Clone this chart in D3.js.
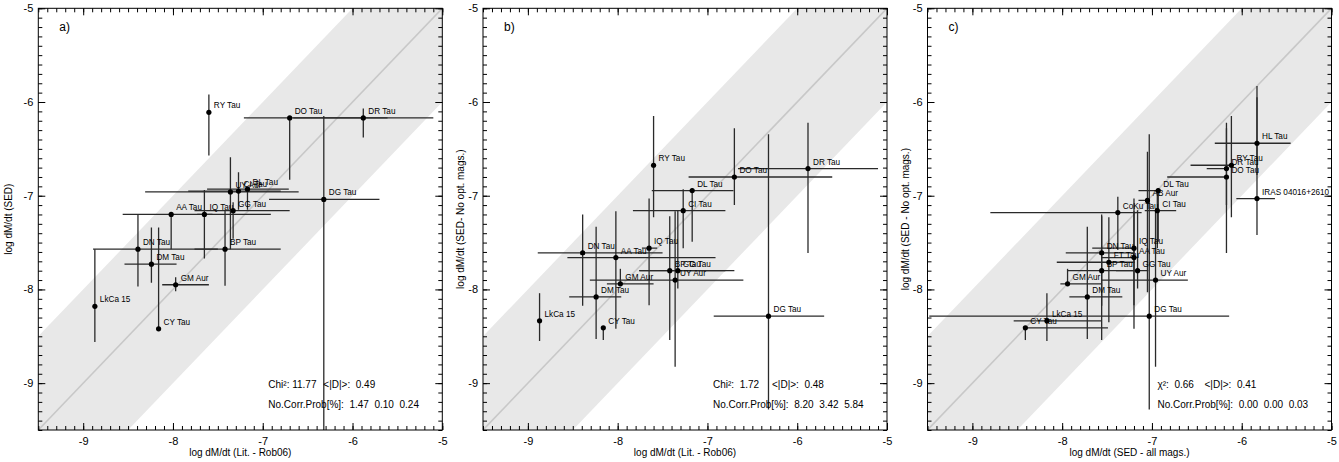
<!DOCTYPE html>
<html>
<head>
<meta charset="utf-8">
<script src="https://cdn.jsdelivr.net/npm/d3@7"></script>
<style>
  body { margin: 0; background: #fff; }
  svg text { font-family: "Liberation Sans", Arial, sans-serif; fill: #000; white-space: pre; }
</style>
</head>
<body>
<svg id="chart" width="1339" height="462"></svg>
<script>
// Stars shared by panels a) and b).
const starsAB = ["RY Tau", "DO Tau", "DR Tau", "DG Tau", "UY Aur", "CI Tau", "DL Tau", "GG Tau",
  "AA Tau", "IQ Tau", "DN Tau", "BP Tau", "DM Tau", "GM Aur", "LkCa 15", "CY Tau"];

// log dM/dt (Lit. - Rob06) with error range.
const litX   = [-7.60, -6.70, -5.88, -6.32, -7.36, -7.27, -7.17, -7.33, -8.02, -7.65, -8.39, -7.42, -8.24, -7.97, -8.87, -8.16];
const litXLo = [-7.60, -7.21, -6.66, -6.93, -8.31, -7.83, -7.62, -7.76, -8.56, -7.73, -8.89, -7.76, -8.54, -8.12, -8.87, -8.16];
const litXHi = [-7.60, -5.61, -5.10, -5.70, -6.60, -6.80, -6.71, -6.70, -6.91, -7.56, -7.50, -6.80, -7.96, -7.60, -8.87, -8.16];

// log dM/dt (SED), panel a).
const sedY   = [-6.11, -6.17, -6.17, -7.04, -6.96, -6.95, -6.93, -7.16, -7.20, -7.20, -7.57, -7.57, -7.73, -7.95, -8.18, -8.42];
const sedYLo = [-6.57, -6.83, -6.38, -9.60, -7.57, -7.15, -7.15, -7.46, -7.57, -7.67, -7.97, -7.96, -7.93, -8.02, -8.56, -8.42];
const sedYHi = [-5.92, -6.17, -6.07, -6.15, -6.59, -6.75, -6.93, -7.07, -7.20, -6.94, -7.20, -7.16, -7.34, -7.87, -7.57, -7.34];

// log dM/dt (SED - No opt. mags.), panel b).
const noOptY   = [-6.675, -6.80, -6.71, -8.285, -7.90, -7.16, -6.945, -7.80, -7.66, -7.56, -7.61, -7.80, -8.08, -7.94, -8.335, -8.41];
const noOptYLo = [-7.23, -7.10, -7.61, -9.28, -8.825, -7.56, -7.49, -7.99, -8.42, -8.17, -8.175, -8.54, -8.53, -7.96, -8.55, -8.54];
const noOptYHi = [-6.15, -6.28, -6.22, -6.345, -7.165, -6.93, -6.92, -7.155, -7.165, -7.03, -7.20, -7.22, -7.33, -7.78, -8.04, -8.41];

// Panel c): SED - all mags. vs SED - No opt. mags.
const starsC = ["HL Tau", "IRAS 04016+2610", "RY Tau", "DR Tau", "DO Tau", "DL Tau", "AB Aur", "CI Tau",
  "CoKu Tau", "IQ Tau", "DN Tau", "AA Tau", "FT Tau", "BP Tau", "GG Tau", "UY Aur", "GM Aur", "DM Tau",
  "DG Tau", "LkCa 15", "CY Tau"];
const allX   = [-5.83, -5.83, -6.115, -6.17, -6.17, -6.93, -7.05, -6.94, -7.38, -7.20, -7.56, -7.20, -7.48, -7.56, -7.16, -6.96, -7.94, -7.72, -7.03, -8.17, -8.41];
const allXLo = [-6.30, -6.06, -6.57, -6.39, -6.83, -7.15, -7.15, -7.08, -8.80, -7.665, -7.96, -7.56, -8.06, -7.94, -7.40, -7.56, -8.02, -7.92, -9.48, -8.54, -8.41];
const allXHi = [-5.455, -5.63, -6.115, -6.17, -6.17, -6.93, -7.05, -6.73, -7.115, -7.20, -7.20, -7.20, -7.19, -7.19, -7.04, -6.60, -7.56, -7.33, -6.14, -7.56, -7.49];
const cY   = [-6.44, -7.03, -6.675, -6.71, -6.80, -6.945, -7.05, -7.16, -7.18, -7.56, -7.61, -7.66, -7.71, -7.80, -7.80, -7.90, -7.94, -8.08, -8.285, -8.335, -8.41];
const cYLo = [-6.78, -7.42, -7.23, -7.61, -7.10, -7.49, -8.03, -7.56, -7.58, -8.17, -8.175, -8.42, -8.35, -8.54, -7.99, -8.825, -7.96, -8.53, -9.28, -8.55, -8.54];
const cYHi = [-5.83, -5.95, -6.15, -6.22, -6.28, -6.92, -6.53, -6.93, -7.01, -7.03, -7.20, -7.165, -7.23, -7.22, -7.155, -7.165, -7.78, -7.33, -6.345, -8.04, -8.41];

// Axis ticks and panel texts.
const majorTicks = [-9, -8, -7, -6, -5];
const panelLetters = ["a)", "b)", "c)"];
const xTitles = ["log dM/dt (Lit. - Rob06)", "log dM/dt (Lit. - Rob06)", "log dM/dt (SED - all mags.)"];
const yTitles = ["log dM/dt (SED)", "log dM/dt (SED- No opt. mags.)", "log dM/dt (SED - No opt. mags.)"];
const chiLabels = ["Chi\u00b2:", "Chi\u00b2:", "\u03c7\u00b2:"];
const chiValues = ["11.77", "1.72", "0.66"];
const meanD = ["0.49", "0.48", "0.41"];
const corrProb = [["1.47", "0.10", "0.24"], ["8.20", "3.42", "5.84"], ["0.00", "0.00", "0.03"]];

// Layout.
const panelLeft = [38.3, 483, 927.5];
const yTitleX = [12, 464, 909];
const dPos = [285, 289, 277];
const plotW = 404, plotTop = 8.3, plotH = 421.7;

const svg = d3.select("#chart");

function zip(names, x, xlo, xhi, y, ylo, yhi) {
  return names.map((n, i) => ({ name: n, x: x[i], xlo: xlo[i], xhi: xhi[i], y: y[i], ylo: ylo[i], yhi: yhi[i] }));
}

const panels = [
  zip(starsAB, litX, litXLo, litXHi, sedY, sedYLo, sedYHi),
  zip(starsAB, litX, litXLo, litXHi, noOptY, noOptYLo, noOptYHi),
  zip(starsC, allX, allXLo, allXHi, cY, cYLo, cYHi)
];

panels.forEach(function (data, p) {
  const g = svg.append("g").attr("transform", `translate(${panelLeft[p]},${plotTop})`);
  const x = d3.scaleLinear().domain([-9.5, -5]).range([0, plotW]);
  const y = d3.scaleLinear().domain([-9.5, -5]).range([plotH, 0]);

  // Clip region for the plot area.
  g.append("clipPath").attr("id", "clip" + p)
    .append("rect").attr("width", plotW).attr("height", plotH);
  const inner = g.append("g").attr("clip-path", `url(#clip${p})`);

  // Grey +/- 1 dex band and the 1:1 line.
  const band = [[-11, -10], [-3, -2], [-3, -4], [-11, -12]];
  inner.append("polygon")
    .attr("points", band.map(d => [x(d[0]), y(d[1])].join(",")).join(" "))
    .attr("fill", "#e8e8e8");
  inner.append("line")
    .attr("x1", x(-11)).attr("y1", y(-11)).attr("x2", x(-3)).attr("y2", y(-3))
    .attr("stroke", "#c8c8c8").attr("stroke-width", 1.6);

  // Error bars.
  inner.selectAll("line.ex").data(data.filter(d => d.xlo !== d.xhi)).enter()
    .append("line").attr("class", "ex")
    .attr("x1", d => x(d.xlo)).attr("x2", d => x(d.xhi))
    .attr("y1", d => y(d.y)).attr("y2", d => y(d.y))
    .attr("stroke", "#2a2a2a").attr("stroke-width", 1.3);
  inner.selectAll("line.ey").data(data.filter(d => d.ylo !== d.yhi)).enter()
    .append("line").attr("class", "ey")
    .attr("x1", d => x(d.x)).attr("x2", d => x(d.x))
    .attr("y1", d => y(d.ylo)).attr("y2", d => y(d.yhi))
    .attr("stroke", "#2a2a2a").attr("stroke-width", 1.3);

  // Points and star names.
  inner.selectAll("circle").data(data).enter()
    .append("circle")
    .attr("cx", d => x(d.x)).attr("cy", d => y(d.y))
    .attr("r", 2.6).attr("fill", "#000");
  g.selectAll("text.star").data(data).enter()
    .append("text").attr("class", "star")
    .attr("x", d => x(d.x) + 5).attr("y", d => y(d.y) - 4)
    .attr("font-size", 8.2)
    .text(d => d.name);

  // Frame.
  g.append("rect").attr("width", plotW).attr("height", plotH)
    .attr("fill", "none").attr("stroke", "#000").attr("stroke-width", 1);

  // Ticks on all four sides, pointing inwards.
  const minor = d3.range(-95, -49).map(v => v / 10);
  const fmt = d => d.toString();
  function addAxis(axis, tx, ty) {
    const a = g.append("g").attr("transform", `translate(${tx},${ty})`).call(axis);
    a.select(".domain").remove();
    a.selectAll("line").attr("stroke", "#000");
    a.selectAll("text").attr("font-size", 11).attr("font-family", "Liberation Sans, Arial, sans-serif");
    return a;
  }
  addAxis(d3.axisBottom(x).tickValues(minor).tickSize(-4).tickFormat(""), 0, plotH);
  addAxis(d3.axisTop(x).tickValues(minor).tickSize(-4).tickFormat(""), 0, 0);
  addAxis(d3.axisLeft(y).tickValues(minor).tickSize(-4).tickFormat(""), 0, 0);
  addAxis(d3.axisRight(y).tickValues(minor).tickSize(-4).tickFormat(""), plotW, 0);
  addAxis(d3.axisBottom(x).tickValues(majorTicks).tickSize(-7).tickPadding(7.4).tickFormat(fmt), 0, plotH);
  addAxis(d3.axisTop(x).tickValues(majorTicks).tickSize(-7).tickFormat(""), 0, 0);
  addAxis(d3.axisLeft(y).tickValues(majorTicks).tickSize(-7).tickPadding(5).tickFormat(fmt), 0, 0);
  addAxis(d3.axisRight(y).tickValues(majorTicks).tickSize(-7).tickFormat(""), plotW, 0);

  // Axis titles.
  g.append("text")
    .attr("x", plotW / 2).attr("y", 448).attr("text-anchor", "middle")
    .attr("font-size", 10).text(xTitles[p]);
  svg.append("text")
    .attr("transform", `translate(${yTitleX[p]},${plotTop + plotH / 2}) rotate(-90)`)
    .attr("text-anchor", "middle").attr("font-size", 10).text(yTitles[p]);

  // Panel letter and statistics.
  g.append("text").attr("x", 21).attr("y", 23).attr("font-size", 12).text(panelLetters[p]);
  const chiStr = chiValues[p].length < 5 ? "  " + chiValues[p] : " " + chiValues[p];
  g.append("text").attr("x", 230).attr("y", plotH - 41.5).attr("font-size", 10)
    .text(chiLabels[p] + chiStr);
  g.append("text").attr("x", dPos[p]).attr("y", plotH - 41.5).attr("font-size", 10)
    .text("<|D|>:  " + meanD[p]);
  g.append("text").attr("x", 230).attr("y", plotH - 21.5).attr("font-size", 10)
    .text("No.Corr.Prob[%]:  " + corrProb[p].join("  "));
});
</script>
</body>
</html>
